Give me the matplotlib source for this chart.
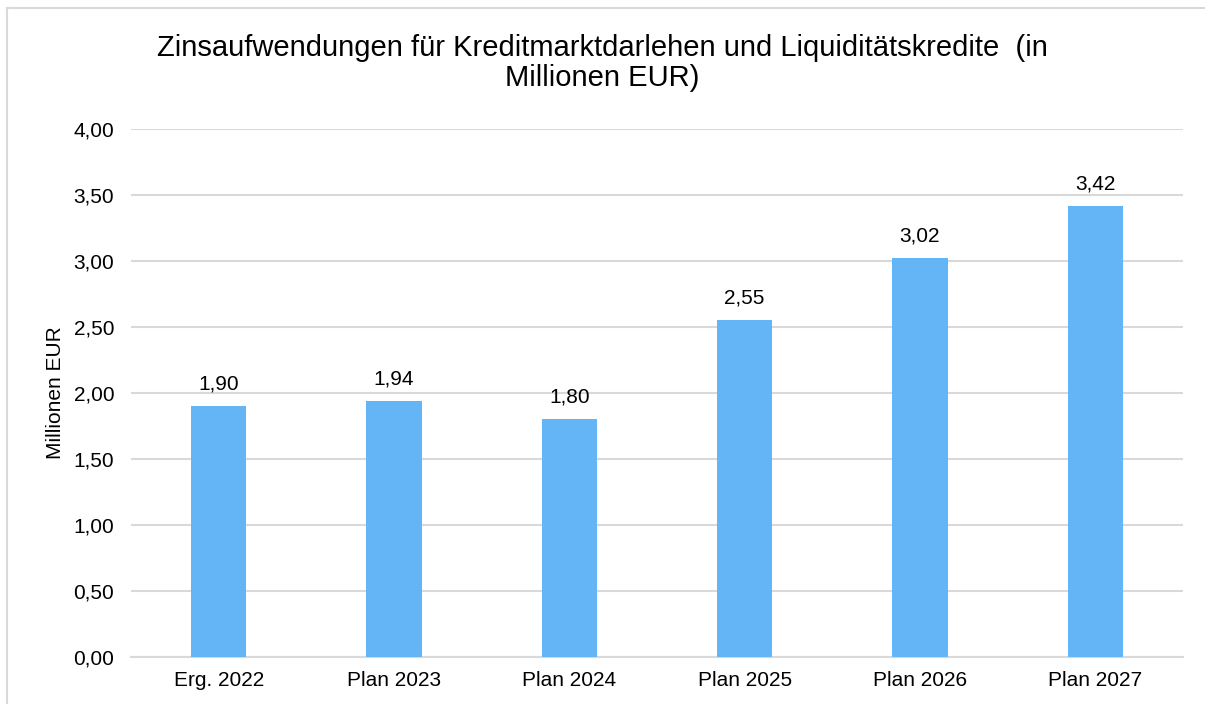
import matplotlib
matplotlib.use('Agg')
import matplotlib.pyplot as plt
from matplotlib.lines import Line2D

plt.rcParams['font.family'] = ['Liberation Sans', 'DejaVu Sans']

categories = ['Erg. 2022', 'Plan 2023', 'Plan 2024', 'Plan 2025', 'Plan 2026', 'Plan 2027']
values = [1.90, 1.94, 1.80, 2.55, 3.02, 3.42]
yticks = [0.0, 0.5, 1.0, 1.5, 2.0, 2.5, 3.0, 3.5, 4.0]

W, H = 1205, 704
fig = plt.figure(figsize=(W / 100, H / 100), dpi=100)
ax = fig.add_axes([131 / W, 1 - 657 / H, (1183 - 131) / W, (657 - 129) / H])

grid_col = '#D9D9D9'
x = list(range(len(categories)))
ax.bar(x, values, width=0.315, color='#64B5F6', zorder=3)

for xi, v in zip(x, values):
    ax.annotate(f'{v:.2f}'.replace('.', ','), xy=(xi, v), xytext=(0, 9),
                textcoords='offset points', ha='center', va='bottom', fontsize=15)

ax.set_xlim(-0.5, len(categories) - 0.5)
ax.set_ylim(0, 4)
ax.set_yticks(yticks)
ax.set_yticklabels([f'{t:.2f}'.replace('.', ',') for t in yticks], fontsize=15)
ax.set_xticks(x)
ax.set_xticklabels(categories, fontsize=15)
ax.tick_params(length=0, pad=10)
ax.tick_params(axis='y', pad=12)
ax.grid(axis='y', color=grid_col, linewidth=1.5, zorder=0)
for s in ['top', 'right', 'left']:
    ax.spines[s].set_visible(False)
ax.spines['bottom'].set_color(grid_col)
ax.spines['bottom'].set_linewidth(1.5)
ax.set_ylabel('Millionen EUR', fontsize=15, labelpad=6)

fig.text(0.5, 1 - 63 / H,
         'Zinsaufwendungen für Kreditmarktdarlehen und Liquiditätskredite  (in\nMillionen EUR)',
         ha='center', va='center', fontsize=21, linespacing=1.1)

# outer frame (top and left edges visible)
fig.add_artist(Line2D([7.5 / W, 7.5 / W], [0, 1 - 8 / H], transform=fig.transFigure,
                      color=grid_col, linewidth=1.5))
fig.add_artist(Line2D([7.5 / W, 1], [1 - 8 / H, 1 - 8 / H], transform=fig.transFigure,
                      color=grid_col, linewidth=1.5))

fig.savefig('out.png', dpi=100)
